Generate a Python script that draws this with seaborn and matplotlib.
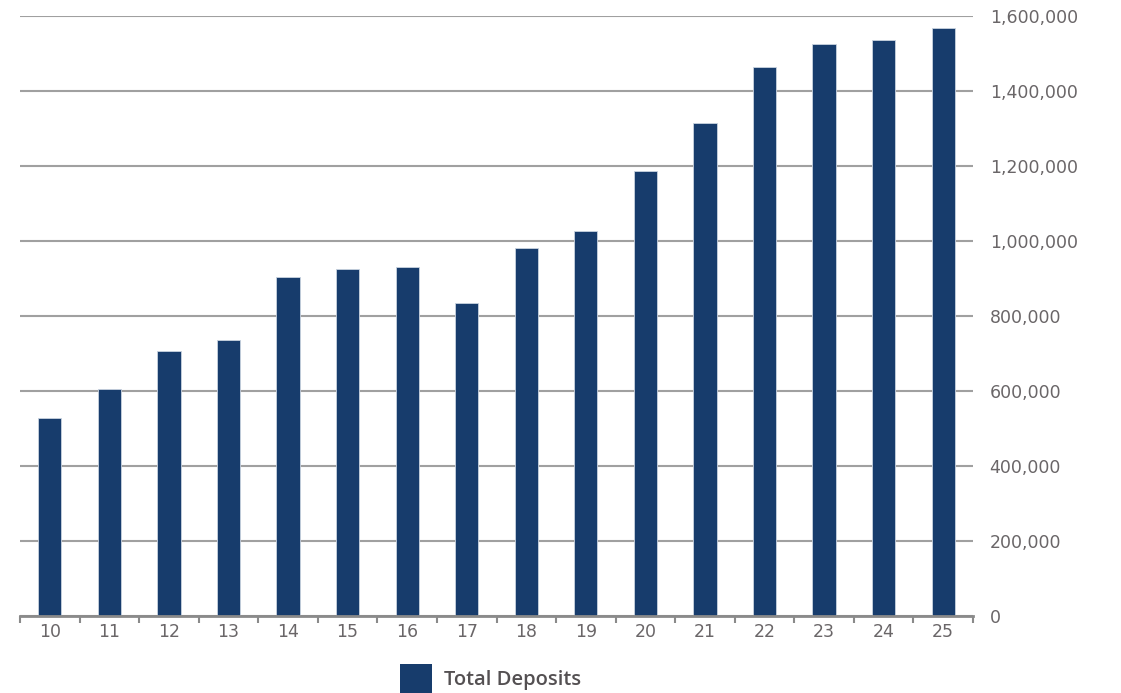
import matplotlib
matplotlib.use("Agg")
import matplotlib.pyplot as plt
from matplotlib.ticker import FuncFormatter, FixedLocator
from matplotlib.patches import Patch
import seaborn as sns
import pandas as pd

# Total deposits by year
years = ["10", "11", "12", "13", "14", "15", "16", "17",
         "18", "19", "20", "21", "22", "23", "24", "25"]
total_deposits = [527000, 604500, 706000, 735000, 904000, 924500, 930000, 835500,
                  980500, 1026700, 1186700, 1313800, 1465000, 1524500, 1536000, 1569000]
y_ticks = [0, 200000, 400000, 600000, 800000, 1000000, 1200000, 1400000, 1600000]

df = pd.DataFrame({"year": years, "deposits": total_deposits})

sns.set_theme(style="white")
plt.rcParams["font.family"] = ["DejaVu Sans"]

bar_color = "#173c6c"
text_color = "#6a6668"
grid_color = "#a0a0a0"

fig = plt.figure(figsize=(11.21, 6.93), dpi=100)
ax = fig.add_axes([20 / 1121, 77 / 693, 953 / 1121, 600 / 693])

sns.barplot(data=df, x="year", y="deposits", color=bar_color, width=0.39,
            saturation=1, edgecolor="#c9d3e0", linewidth=0.6, ax=ax, zorder=3)

ax.set_xlim(-0.5, len(years) - 0.5)
ax.set_ylim(0, 1600000)
ax.set_xlabel("")
ax.set_ylabel("")

# horizontal gridlines behind the bars
ax.yaxis.set_major_locator(FixedLocator(y_ticks))
ax.yaxis.grid(True, color=grid_color, linewidth=1.5, zorder=0)
ax.set_axisbelow(True)
ax.yaxis.tick_right()
ax.yaxis.set_major_formatter(FuncFormatter(lambda v, p: f"{int(v):,}"))
ax.tick_params(axis="y", length=0, pad=12, labelsize=12.5, labelcolor=text_color)

# category ticks: labels centred, small marks at the boundaries
ax.tick_params(axis="x", which="major", length=0, pad=5, labelsize=12.5,
               labelcolor=text_color)
ax.xaxis.set_minor_locator(FixedLocator([i - 0.5 for i in range(len(years) + 1)]))
ax.tick_params(axis="x", which="minor", bottom=True, length=5, width=1.5,
               color="#8a8a8a", direction="out")

for side in ["top", "left", "right"]:
    ax.spines[side].set_visible(False)
ax.spines["bottom"].set_color("#8a8a8a")
ax.spines["bottom"].set_linewidth(2)
ax.spines["bottom"].set_zorder(4)

handle = Patch(facecolor=bar_color, edgecolor="none", label="Total Deposits")
fig.legend(handles=[handle], loc="lower left", bbox_to_anchor=(392 / 1121, -0.012),
           frameon=False, handlelength=1.6, handleheight=1.85,
           handletextpad=0.6, borderaxespad=0, labelcolor="#545052",
           prop={"family": "Open Sans", "weight": "semibold", "size": 14.5})

fig.savefig("out.png", dpi=100, facecolor="white")
